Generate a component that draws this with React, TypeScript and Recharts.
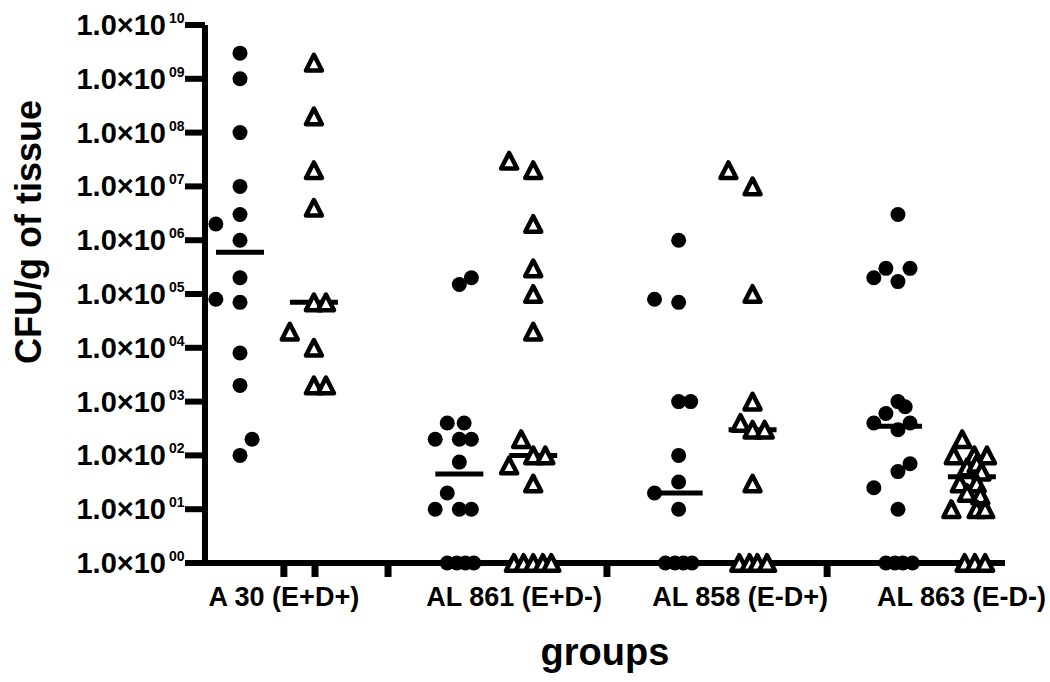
import { Scatter, ScatterChart, XAxis, YAxis } from 'recharts';

const groups = ['A 30 (E+D+)', 'AL 861 (E+D-)', 'AL 858 (E-D+)', 'AL 863 (E-D-)'];
const labelPos = [0.2, 1.25, 2.28, 3.29];
const axisTickPos = [0.2, 0.342, 0.675, 1.673, 2.677];
const yTicks = [1, 1e1, 1e2, 1e3, 1e4, 1e5, 1e6, 1e7, 1e8, 1e9, 1e10];

// [CFU/g, sideways offset in marker widths]
const a30Circles = [[3e9, 0], [1e9, 0], [1e8, 0], [1e7, 0], [3e6, 0], [2e6, -2], [1e6, 0], [2e5, 0], [8e4, -2], [7e4, 0], [8e3, 0], [2e3, 0], [200, 1], [100, 0]];
const a30Triangles = [[2e9, 0], [2e8, 0], [2e7, 0], [4e6, 0], [7e4, 0], [7e4, 1], [2e4, -2], [1e4, 0], [2e3, 0], [2e3, 1]];
const al861Circles = [[2e5, 1], [1.5e5, 0], [400, -1], [400, 0.4], [200, -2], [200, 0], [200, 1], [75, 0], [20, -1], [10, -2], [10, 0], [10, 1], [1, -1], [1, -0.2], [1, 0.5], [1, 1.2]];
const al861Triangles = [[3e7, -2], [2e7, 0], [2e6, 0], [3e5, 0], [1e5, 0], [2e4, 0], [200, -1], [100, 0], [100, 1], [65, -2], [30, 0], [1, -1.6], [1, -0.8], [1, 0], [1, 0.8], [1, 1.5]];
const al858Circles = [[1e6, 0], [8e4, -2], [7e4, 0], [1e3, 0], [1e3, 1], [100, 0], [32, 0], [20, -2], [10, 0], [1, -1.1], [1, -0.3], [1, 0.4], [1, 1.1]];
const al858Triangles = [[2e7, -2], [1e7, 0], [1e5, 0], [1e3, 0], [400, -1], [300, 0], [300, 1], [30, 0], [1, -1.1], [1, -0.25], [1, 0.4], [1, 1.2]];
const al863Circles = [[3e6, 0], [2e5, -2], [3e5, -1], [1.7e5, 0], [3e5, 1], [1e3, 0], [600, -1], [800, 0.6], [400, -2], [400, 1], [300, 0], [70, 1], [50, 0], [25, -2], [10, 0], [1, -1], [1, -0.25], [1, 0.4], [1, 1.2]];
const al863Triangles = [[200, -0.8], [100, -1.5], [100, 0.2], [100, 1.25], [60, -0.4], [70, 0.4], [50, 0.8], [30, -1], [30, 0.4], [20, -0.4], [18, 0.7], [10, -1.7], [10, 0.4], [10, 1.1], [1, -0.6], [1, 0.25], [1, 1.1]];

const medianCircles = [6e5, 45, 20, 350];
const medianTriangles = [7e4, 100, 300, 40];

const STEP = 0.055;
const TRI_COL = 0.337;
const font = 'Liberation Sans, Arial, sans-serif';

const toPoints = (rows: number[][], g: number, col: number) =>
  rows.map(([v, o]) => ({ x: g + col + o * STEP, y: v }));

const circles = [a30Circles, al861Circles, al858Circles, al863Circles].flatMap((r, g) => toPoints(r, g, 0));
const triangles = [a30Triangles, al861Triangles, al858Triangles, al863Triangles].flatMap((r, g) => toPoints(r, g, TRI_COL));
const medians = [
  ...medianCircles.map((v, g) => ({ x: g, y: v })),
  ...medianTriangles.map((v, g) => ({ x: g + TRI_COL, y: v })),
];
const xTicks = Array.from(new Set([...axisTickPos, ...labelPos])).sort((a, b) => a - b);

const Dot = (p: any) => <circle cx={p.cx} cy={p.cy} r={7.5} fill="#000" />;
const Tri = (p: any) => (
  <path
    d={`M${p.cx},${p.cy - 7.8} L${p.cx + 8},${p.cy + 7.8} L${p.cx - 8},${p.cy + 7.8} Z`}
    fill="#fff"
    stroke="#000"
    strokeWidth={4.5}
    strokeLinejoin="round"
  />
);
const Median = (p: any) => (
  <line x1={p.cx - 24} x2={p.cx + 24} y1={p.cy} y2={p.cy} stroke="#000" strokeWidth={5} />
);

function YTick({ x, y, payload }: any) {
  const exp = String(Math.round(Math.log10(payload.value))).padStart(2, '0');
  return (
    <g fontFamily={font} fontWeight="bold" fill="#000">
      <text x={x - 17} y={y} textAnchor="end" dominantBaseline="central" fontSize={29}>1.0×10</text>
      <text x={x - 14} y={y - 2} fontSize={14}>{exp}</text>
    </g>
  );
}

function XTick({ x, y, payload }: any) {
  const v = payload.value;
  const li = labelPos.indexOf(v);
  return (
    <g>
      {axisTickPos.includes(v) && <rect x={x - 3.5} y={y} width={7} height={14} fill="#000" />}
      {li >= 0 && (
        <text x={x} y={y + 43} textAnchor="middle" fontFamily={font} fontWeight="bold" fontSize={27} fill="#000">
          {groups[li]}
        </text>
      )}
    </g>
  );
}

export default function App() {
  return (
    <div style={{ position: 'fixed', left: 0, top: 0, width: 1050, height: 682, background: '#fff' }}>
      <ScatterChart width={1050} height={682} margin={{ top: 25, right: 45, bottom: 0, left: 0 }}>
        <XAxis
          type="number"
          dataKey="x"
          domain={[-0.1596, 3.488]}
          ticks={xTicks}
          interval={0}
          height={119}
          tickSize={0}
          tickMargin={0}
          tickLine={false}
          tick={<XTick />}
          axisLine={{ stroke: '#000', strokeWidth: 6 }}
          label={{
            content: ({ viewBox }: any) => (
              <text x={viewBox.x + viewBox.width / 2} y={665} textAnchor="middle" fontFamily={font} fontWeight="bold" fontSize={38} fill="#000">
                groups
              </text>
            ),
          }}
        />
        <YAxis
          type="number"
          dataKey="y"
          scale="log"
          domain={[1, 1e10]}
          ticks={yTicks}
          interval={0}
          width={205}
          tickSize={20}
          tickMargin={2}
          tick={<YTick />}
          axisLine={{ stroke: '#000', strokeWidth: 6 }}
          tickLine={{ stroke: '#000', strokeWidth: 6 }}
          label={{
            content: () => (
              <text x={28} y={232} transform="rotate(-90, 28, 232)" textAnchor="middle" dominantBaseline="central" fontFamily={font} fontWeight="bold" fontSize={36} fill="#000">
                CFU/g of tissue
              </text>
            ),
          }}
        />
        <Scatter data={medians} shape={Median} isAnimationActive={false} />
        <Scatter data={circles} shape={Dot} isAnimationActive={false} />
        <Scatter data={triangles} shape={Tri} isAnimationActive={false} />
      </ScatterChart>
    </div>
  );
}
